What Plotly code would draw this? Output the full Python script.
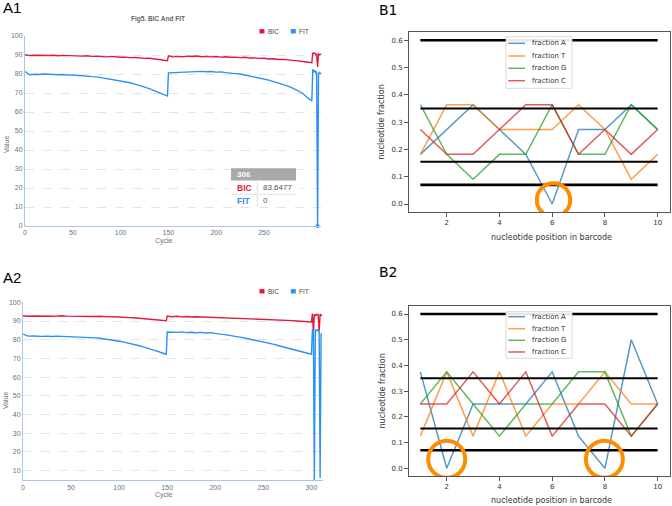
import plotly.graph_objects as go

W, H = 672, 506
def px(x):
    return x / W
def py(y):
    return 1 - y / H

AF = "Liberation Sans, Arial, sans-serif"
BF = "DejaVu Sans, sans-serif"

# ---------------- data: panels A (BIC / FIT per cycle) ----------------
A_SEG1 = list(range(0, 150, 5)) + [149]
A_SEG2 = list(range(150, 301, 5))
A1_TAIL = list(range(301, 311))
A2_TAIL = list(range(301, 312))

A1_BIC_1 = [90.1, 89.7, 89.9, 89.8, 90.0, 89.7, 89.9, 89.6, 89.8, 89.7, 89.5, 89.6, 89.4, 89.6, 89.3, 89.4,
            89.2, 89.0, 89.3, 88.9, 88.8, 88.9, 88.6, 88.7, 88.4, 88.2, 88.3, 87.9, 87.6, 87.4, 87.0]
A1_BIC_2 = [89.6, 89.0, 89.3, 89.1, 89.4, 89.2, 89.5, 89.1, 89.3, 89.0, 89.2, 88.9, 89.1, 88.8, 88.9, 88.6,
            88.8, 88.4, 88.5, 88.2, 88.3, 87.9, 88.0, 87.6, 87.7, 87.3, 87.2, 86.9, 86.6, 86.3, 85.9]
A1_BIC_3 = [91.2, 90.8, 91.0, 90.2, 90.4, 83.6477, 90.5, 90.2, 90.4, 90.3]

A1_FIT_1 = [81.3, 79.6, 79.9, 79.7, 80.0, 79.8, 79.9, 79.6, 79.7, 79.4, 79.5, 79.2, 79.0, 78.9, 78.6, 78.5,
            78.1, 77.7, 77.3, 76.8, 76.4, 75.9, 75.4, 74.7, 74.0, 73.2, 72.3, 71.3, 70.3, 69.2, 68.4]
A1_FIT_2 = [80.6, 80.7, 80.9, 81.0, 81.2, 81.3, 81.1, 81.4, 81.2, 81.3, 81.0, 81.1, 80.7, 80.6, 80.2, 80.0,
            79.5, 79.1, 78.5, 78.1, 77.4, 76.8, 76.0, 75.3, 74.4, 73.6, 72.6, 71.4, 70.0, 67.8, 65.8]
A1_FIT_3 = [82.5, 81.0, 82.0, 80.5, 81.2, 0.0, 80.0, 80.8, 80.2, 80.5]

A2_BIC_1 = [92.8, 92.5, 92.7, 92.6, 92.4, 92.7, 92.5, 92.6, 92.8, 92.6, 92.5, 92.7, 92.6, 92.6, 92.5, 92.4,
            92.5, 92.3, 92.2, 92.3, 92.0, 91.9, 91.8, 91.7, 91.5, 91.4, 91.2, 91.0, 90.8, 90.5, 90.1]
A2_BIC_2 = [92.6, 92.3, 92.5, 92.2, 92.4, 92.1, 92.3, 92.2, 92.0, 92.2, 91.9, 92.0, 91.7, 91.8, 91.5, 91.6,
            91.3, 91.4, 91.1, 91.2, 90.9, 91.0, 90.7, 90.8, 90.5, 90.4, 90.2, 90.0, 89.9, 89.7, 89.5]
A2_BIC_3 = [94.0, 84.0, 93.5, 93.0, 93.6, 93.2, 93.4, 84.5, 93.6, 93.0, 93.2]

A2_FIT_1 = [83.0, 81.9, 82.0, 81.7, 81.8, 81.9, 81.7, 81.9, 81.8, 81.9, 81.7, 81.8, 81.6, 81.5, 81.3, 81.0,
            80.8, 80.5, 80.1, 79.7, 79.2, 78.7, 78.2, 77.6, 76.9, 76.2, 75.5, 74.6, 73.8, 72.9, 72.2]
A2_FIT_2 = [84.1, 84.0, 83.9, 84.2, 83.8, 84.0, 83.7, 83.9, 83.6, 83.8, 83.2, 83.0, 82.7, 82.3, 82.0, 81.5,
            81.0, 80.4, 79.9, 79.4, 78.9, 78.3, 77.6, 76.9, 76.3, 75.7, 75.0, 74.4, 73.6, 72.9, 72.2]
A2_FIT_3 = [85.0, 84.8, 4.8, 85.2, 84.9, 85.3, 84.6, 85.0, 6.0, 83.0, 82.8]

A1_CYCLES = A_SEG1 + A_SEG2 + A1_TAIL
A2_CYCLES = A_SEG1 + A_SEG2 + A2_TAIL
A1_BIC = A1_BIC_1 + A1_BIC_2 + A1_BIC_3
A1_FIT = A1_FIT_1 + A1_FIT_2 + A1_FIT_3
A2_BIC = A2_BIC_1 + A2_BIC_2 + A2_BIC_3
A2_FIT = A2_FIT_1 + A2_FIT_2 + A2_FIT_3

A1_XTICKS = [0, 50, 100, 150, 200, 250]
A2_XTICKS = [0, 50, 100, 150, 200, 250, 300]
TOOLTIP_CYCLE = 306
TOOLTIP_BIC = "83.6477"
TOOLTIP_FIT = "0"

# ---------------- data: panels B (nucleotide fractions) ----------------
POSITIONS = [1, 2, 3, 4, 5, 6, 7, 8, 9, 10]
B1_A = [0.182, 0.273, 0.364, 0.273, 0.182, 0.0, 0.273, 0.273, 0.364, 0.273]
B1_T = [0.182, 0.364, 0.364, 0.273, 0.273, 0.273, 0.364, 0.273, 0.091, 0.182]
B1_G = [0.364, 0.182, 0.091, 0.182, 0.182, 0.364, 0.182, 0.182, 0.364, 0.273]
B1_C = [0.273, 0.182, 0.182, 0.273, 0.364, 0.364, 0.182, 0.273, 0.182, 0.273]

B2_A = [0.375, 0.0, 0.25, 0.25, 0.25, 0.375, 0.125, 0.0, 0.5, 0.25]
B2_T = [0.125, 0.375, 0.125, 0.375, 0.125, 0.25, 0.25, 0.375, 0.25, 0.25]
B2_G = [0.25, 0.375, 0.25, 0.125, 0.25, 0.25, 0.375, 0.375, 0.125, 0.25]
B2_C = [0.25, 0.25, 0.375, 0.25, 0.375, 0.125, 0.25, 0.25, 0.125, 0.25]

B_HLINES = [0.6, 0.35, 0.155, 0.07]
B_HLINE_WIDTHS = [2.6, 2.0, 2.0, 2.6]
B_LABELS = ["fraction A", "fraction T", "fraction G", "fraction C"]
B_COLORS = ["rgba(31,119,180,0.75)", "rgba(255,127,14,0.75)", "rgba(44,160,44,0.75)", "rgba(214,39,40,0.75)"]
B_YTICKS = [0.0, 0.1, 0.2, 0.3, 0.4, 0.5, 0.6]
B_YTICKTEXT = ["0.0", "0.1", "0.2", "0.3", "0.4", "0.5", "0.6"]
B_XTICKS = [2, 4, 6, 8, 10]
B1_CIRCLES = [(6.05, 0.015)]
B2_CIRCLES = [(2.0, 0.035), (7.98, 0.035)]

RED = "#e0193f"
BLUE = "#2b8ff5"

fig = go.Figure()

# ---- A1 ----
fig.add_trace(go.Scatter(x=A1_CYCLES, y=A1_BIC, mode="lines", line=dict(color=RED, width=1.4),
                         xaxis="x", yaxis="y"))
fig.add_trace(go.Scatter(x=A1_CYCLES, y=A1_FIT, mode="lines", line=dict(color=BLUE, width=1.4),
                         xaxis="x", yaxis="y"))
fig.add_trace(go.Scatter(x=[TOOLTIP_CYCLE], y=[0], mode="markers", marker=dict(color=BLUE, size=4),
                         xaxis="x", yaxis="y", cliponaxis=False))
# ---- A2 ----
fig.add_trace(go.Scatter(x=A2_CYCLES, y=A2_BIC, mode="lines", line=dict(color=RED, width=1.4),
                         xaxis="x2", yaxis="y2"))
fig.add_trace(go.Scatter(x=A2_CYCLES, y=A2_FIT, mode="lines", line=dict(color=BLUE, width=1.4),
                         xaxis="x2", yaxis="y2"))

# ---- B1 / B2 ----
for (xa, ya, series) in [("x3", "y3", [B1_A, B1_T, B1_G, B1_C]), ("x4", "y4", [B2_A, B2_T, B2_G, B2_C])]:
    for s, col in zip(series, B_COLORS):
        fig.add_trace(go.Scatter(x=POSITIONS, y=s, mode="lines", line=dict(color=col, width=1.5),
                                 xaxis=xa, yaxis=ya))
    for hv, hw in zip(B_HLINES, B_HLINE_WIDTHS):
        fig.add_trace(go.Scatter(x=[POSITIONS[0], POSITIONS[-1]], y=[hv, hv], mode="lines",
                                 line=dict(color="black", width=hw), xaxis=xa, yaxis=ya))

a_tick = dict(family=AF, size=7, color="#6e7079")
a_line = "#aac6ec"
b_tick = dict(family=BF, size=7, color="#333333")

def a_xaxis(dom, rng, ticks, anchor):
    return dict(domain=dom, range=rng, tickvals=ticks, showgrid=False, zeroline=False, showline=True,
                linecolor=a_line, linewidth=1, ticks="", tickfont=a_tick, anchor=anchor, automargin=False)

def a_yaxis(dom, rng, anchor):
    return dict(domain=dom, range=rng, dtick=10, tick0=0, showgrid=True, gridcolor="#dfe5ef", griddash="dash",
                gridwidth=1, zeroline=False, showline=True, linecolor=a_line, linewidth=1, ticks="",
                tickfont=a_tick, anchor=anchor, automargin=False)

def b_xaxis(dom, anchor):
    return dict(domain=dom, range=[0.55, 10.45], tickvals=B_XTICKS, showgrid=False, zeroline=False,
                showline=True, mirror=True, linecolor="#555555", linewidth=1, ticks="outside", ticklen=3.5,
                tickwidth=0.8, tickcolor="#555555", tickfont=b_tick, anchor=anchor, automargin=False)

def b_yaxis(dom, anchor):
    return dict(domain=dom, range=[-0.03, 0.63], tickvals=B_YTICKS, ticktext=B_YTICKTEXT, showgrid=False,
                zeroline=False, showline=True, mirror=True, linecolor="#555555", linewidth=1,
                ticks="outside", ticklen=3.5, tickwidth=0.8, tickcolor="#555555", tickfont=b_tick,
                anchor=anchor, automargin=False)

fig.update_layout(
    width=W, height=H, margin=dict(l=0, r=0, t=0, b=0, autoexpand=False),
    paper_bgcolor="white", plot_bgcolor="white", showlegend=False,
    xaxis=a_xaxis([px(25), px(321.4)], [0, 310], A1_XTICKS, "y"),
    yaxis=a_yaxis([py(226), py(36)], [0, 100], "x"),
    xaxis2=a_xaxis([px(23), px(323)], [0, 312], A2_XTICKS, "y2"),
    yaxis2=a_yaxis([py(480.3), py(302.3)], [4.8, 100], "x2"),
    xaxis3=b_xaxis([px(408.5), px(669.5)], "y3"),
    yaxis3=b_yaxis([py(212.2), py(32.1)], "x3"),
    xaxis4=b_xaxis([px(408.5), px(669.5)], "y4"),
    yaxis4=b_yaxis([py(476.0), py(306.3)], "x4"),
)

ann = []
shapes = []

def text(x, y, t, size, color="black", family=AF, xanchor="left", bold=False, angle=0):
    ann.append(dict(x=px(x), y=py(y), xref="paper", yref="paper", text=("<b>%s</b>" % t) if bold else t,
                    showarrow=False, xanchor=xanchor, yanchor="middle", textangle=angle,
                    font=dict(family=family, size=size, color=color)))

# panel labels
text(1, 7, "A1", 15)
text(1, 277, "A2", 15)
text(377, 9.5, "B1", 14, family=BF)
text(377, 272, "B2", 14, family=BF)

# A titles / axis names
text(157.8, 19.3, "Fig5. BIC And FIT", 6.5, color="#666666", bold=True, xanchor="center")
text(163.5, 241, "Cycle", 7, color="#6e7079", xanchor="center")
text(163.5, 495.3, "Cycle", 7, color="#6e7079", xanchor="center")
text(6, 145, "Value", 7, color="#6e7079", xanchor="center", angle=-90)
text(5, 401, "Value", 7, color="#6e7079", xanchor="center", angle=-90)

# A legends
for ly in [31.3, 291.3]:
    for x0, col, lab in [(259.5, RED, "BIC"), (290.8, BLUE, "FIT")]:
        shapes.append(dict(type="rect", xref="paper", yref="paper", x0=px(x0), x1=px(x0 + 5),
                           y0=py(ly + 2.2), y1=py(ly - 2.2), fillcolor=col, line=dict(width=0), layer="above"))
        text(x0 + 6.5, ly, lab, 6.5, color="#444444")

# A1 tooltip
shapes.append(dict(type="rect", xref="paper", yref="paper", x0=px(229), x1=px(301), y0=py(207),
                   y1=py(180), fillcolor="white", line=dict(width=0), layer="above"))
shapes.append(dict(type="rect", xref="paper", yref="paper", x0=px(231), x1=px(296), y0=py(180.5),
                   y1=py(168.3), fillcolor="#a9a9a9", line=dict(width=0), layer="above"))
shapes.append(dict(type="line", xref="paper", yref="paper", x0=px(231), x1=px(296), y0=py(194.3),
                   y1=py(194.3), line=dict(color="#e3e3e3", width=1), layer="above"))
shapes.append(dict(type="line", xref="paper", yref="paper", x0=px(257.3), x1=px(257.3), y0=py(182),
                   y1=py(207), line=dict(color="#dddddd", width=1), layer="above"))
text(235.5, 174.5, str(TOOLTIP_CYCLE), 8, color="white", bold=True)
text(235.5, 187.8, "BIC", 8.5, color=RED, bold=True)
text(235.5, 201, "FIT", 8.5, color=BLUE, bold=True)
text(260.5, 187.8, TOOLTIP_BIC, 8, color="#555555")
text(261, 201, TOOLTIP_FIT, 8, color="#555555")

# B axis names
text(551, 238, "nucleotide position in barcode", 8, color="#333333", family=BF, xanchor="center")
text(551, 500.5, "nucleotide position in barcode", 8, color="#333333", family=BF, xanchor="center")
text(381.5, 122, "nucleotide fraction", 8, color="#333333", family=BF, xanchor="center", angle=-90)
text(381.5, 391, "nucleotide fraction", 8, color="#333333", family=BF, xanchor="center", angle=-90)

# B legends
for (top, bot, rows) in [(36.7, 88.3, [43.3, 56.0, 68.3, 80.7]), (311.7, 358.3, [316.7, 328.7, 340.3, 352.0])]:
    shapes.append(dict(type="rect", xref="paper", yref="paper", x0=px(506), x1=px(572), y0=py(bot), y1=py(top),
                       fillcolor="rgba(255,255,255,0.9)", line=dict(color="#d0d0d0", width=0.8), layer="above"))
    for ry, lab, col in zip(rows, B_LABELS, B_COLORS):
        shapes.append(dict(type="line", xref="paper", yref="paper", x0=px(508.3), x1=px(525), y0=py(ry),
                           y1=py(ry), line=dict(color=col, width=1.5), layer="above"))
        text(530, ry, lab, 7, color="#333333", family=BF)

# B orange circles
for (xa, ya, circles, r) in [("x3", "y3", B1_CIRCLES, 16.7), ("x4", "y4", B2_CIRCLES, 18.5)]:
    for cx, cy in circles:
        shapes.append(dict(type="circle", xref=xa, yref=ya, xsizemode="pixel", ysizemode="pixel",
                           xanchor=cx, yanchor=cy, x0=-r, x1=r, y0=-r, y1=r,
                           line=dict(color="#ff8c00", width=4), layer="above"))

fig.update_layout(annotations=ann, shapes=shapes)
fig.write_html("out.html", config={"displayModeBar": False},
               post_script="document.body.style.margin='0px';document.body.style.overflow='hidden';")
